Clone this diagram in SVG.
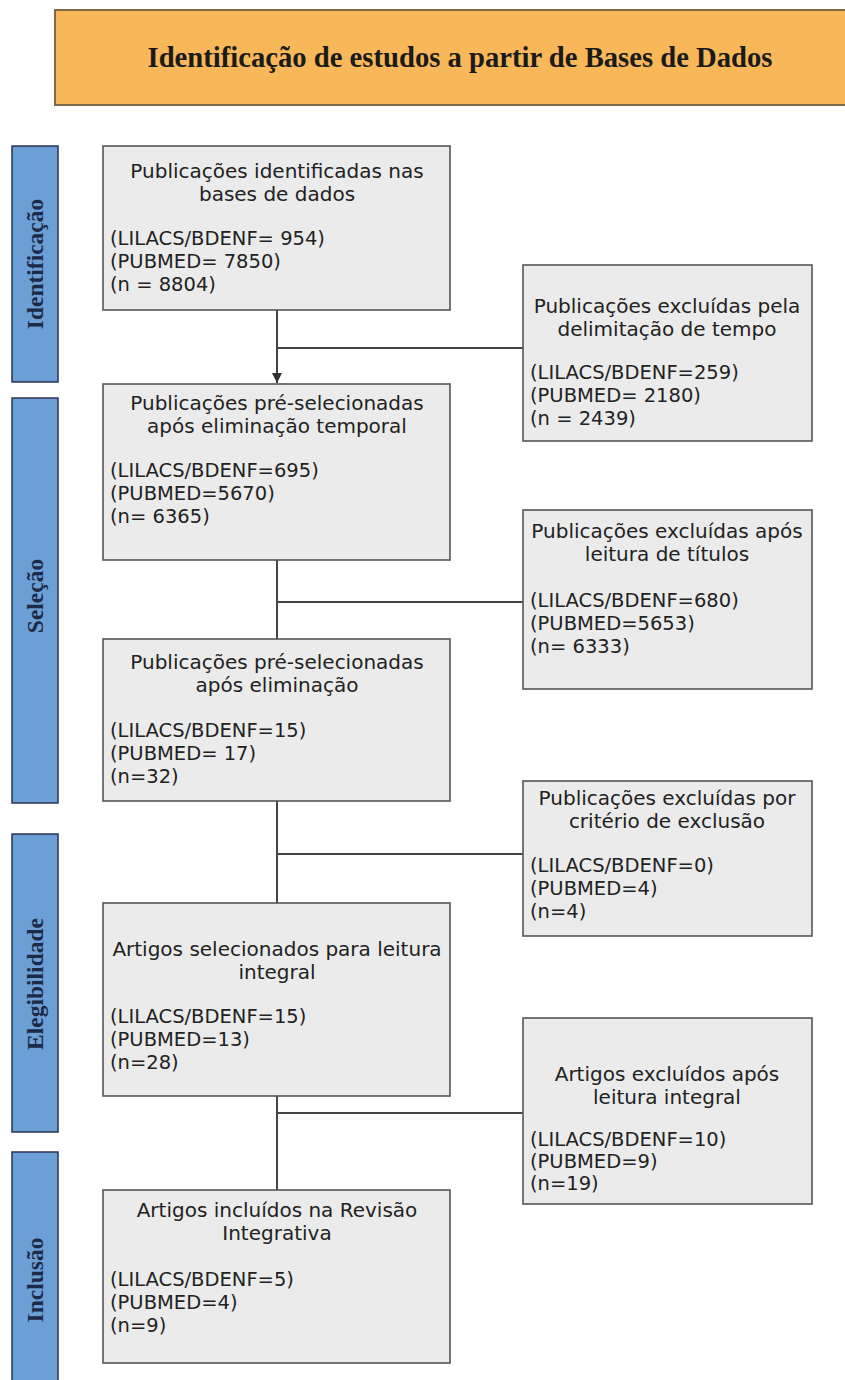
<svg xmlns="http://www.w3.org/2000/svg" width="845" height="1380" viewBox="0 0 845 1380">
<defs>
<style>
.hdr{fill:#f8b758;stroke:#7d6a48;stroke-width:2}
.ttl{font-family:"Liberation Serif",serif;font-weight:bold;font-size:30px;fill:#1a1a1a}
.bar{fill:#6b9fd6;stroke:#2b3550;stroke-width:1.5}
.bt{font-family:"Liberation Serif",serif;font-weight:bold;font-size:23.5px;fill:#1c2a48}
.box{fill:#ebebeb;stroke:#555;stroke-width:1.6}
.t{font-family:"DejaVu Sans",sans-serif;font-size:19.5px;fill:#222}
.h{font-size:20px}
.c{text-anchor:middle}
.ln{stroke:#444;stroke-width:2;fill:none}
</style>
<marker id="ah" viewBox="0 0 10 10" refX="10" refY="5" markerWidth="5" markerHeight="5" orient="auto"><path d="M0,0 L10,5 L0,10 z" fill="#333"/></marker>
</defs>
<rect width="845" height="1380" fill="#fff"/>
<g id="header">
<rect class="hdr" x="55" y="10" width="800" height="95"/>
<text class="ttl c" x="460" y="67" textLength="625" lengthAdjust="spacingAndGlyphs">Identificação de estudos a partir de Bases de Dados</text>
</g>
<g id="phase-identificacao">
<rect class="bar" x="12" y="146" width="46" height="236"/>
<text class="bt c" transform="translate(43,264) rotate(-90)">Identificação</text>
</g>
<g id="phase-selecao">
<rect class="bar" x="12" y="398" width="46" height="405"/>
<text class="bt c" transform="translate(43,596) rotate(-90)">Seleção</text>
</g>
<g id="phase-elegibilidade">
<rect class="bar" x="12" y="834" width="46" height="298"/>
<text class="bt c" transform="translate(43,984) rotate(-90)">Elegibilidade</text>
</g>
<g id="phase-inclusao">
<rect class="bar" x="12" y="1152" width="46" height="240"/>
<text class="bt c" transform="translate(43,1280) rotate(-90)">Inclusão</text>
</g>
<g id="connectors">
<line class="ln" x1="277" y1="310" x2="277" y2="383" marker-end="url(#ah)"/>
<line class="ln" x1="277" y1="348" x2="523" y2="348"/>
<line class="ln" x1="277" y1="560" x2="277" y2="639"/>
<line class="ln" x1="277" y1="602" x2="523" y2="602"/>
<line class="ln" x1="277" y1="801" x2="277" y2="903"/>
<line class="ln" x1="277" y1="854" x2="523" y2="854"/>
<line class="ln" x1="277" y1="1096" x2="277" y2="1190"/>
<line class="ln" x1="277" y1="1113" x2="523" y2="1113"/>
</g>
<g id="box1">
<rect class="box" x="103" y="146" width="347" height="164"/>
<text class="t h c" x="277" y="178">Publicações identificadas nas</text>
<text class="t h c" x="277" y="201">bases de dados</text>
<text class="t" x="110" y="245">(LILACS/BDENF= 954)</text>
<text class="t" x="110" y="268">(PUBMED= 7850)</text>
<text class="t" x="110" y="291">(n = 8804)</text>
</g>
<g id="box2">
<rect class="box" x="103" y="384" width="347" height="176"/>
<text class="t h c" x="277" y="410">Publicações pré-selecionadas</text>
<text class="t h c" x="277" y="433">após eliminação temporal</text>
<text class="t" x="110" y="477">(LILACS/BDENF=695)</text>
<text class="t" x="110" y="500">(PUBMED=5670)</text>
<text class="t" x="110" y="523">(n= 6365)</text>
</g>
<g id="box3">
<rect class="box" x="103" y="639" width="347" height="162"/>
<text class="t h c" x="277" y="669">Publicações pré-selecionadas</text>
<text class="t h c" x="277" y="692">após eliminação</text>
<text class="t" x="110" y="737">(LILACS/BDENF=15)</text>
<text class="t" x="110" y="760">(PUBMED= 17)</text>
<text class="t" x="110" y="783">(n=32)</text>
</g>
<g id="box4">
<rect class="box" x="103" y="903" width="347" height="193"/>
<text class="t h c" x="277" y="956">Artigos selecionados para leitura</text>
<text class="t h c" x="277" y="979">integral</text>
<text class="t" x="110" y="1023">(LILACS/BDENF=15)</text>
<text class="t" x="110" y="1046">(PUBMED=13)</text>
<text class="t" x="110" y="1069">(n=28)</text>
</g>
<g id="box5">
<rect class="box" x="103" y="1190" width="347" height="173"/>
<text class="t h c" x="277" y="1217">Artigos incluídos na Revisão</text>
<text class="t h c" x="277" y="1240">Integrativa</text>
<text class="t" x="110" y="1286">(LILACS/BDENF=5)</text>
<text class="t" x="110" y="1309">(PUBMED=4)</text>
<text class="t" x="110" y="1332">(n=9)</text>
</g>
<g id="excl1">
<rect class="box" x="523" y="265" width="289" height="176"/>
<text class="t h c" x="667" y="313">Publicações excluídas pela</text>
<text class="t h c" x="667" y="336">delimitação de tempo</text>
<text class="t" x="530" y="379">(LILACS/BDENF=259)</text>
<text class="t" x="530" y="402">(PUBMED= 2180)</text>
<text class="t" x="530" y="425">(n = 2439)</text>
</g>
<g id="excl2">
<rect class="box" x="523" y="510" width="289" height="179"/>
<text class="t h c" x="667" y="538">Publicações excluídas após</text>
<text class="t h c" x="667" y="561">leitura de títulos</text>
<text class="t" x="530" y="607">(LILACS/BDENF=680)</text>
<text class="t" x="530" y="630">(PUBMED=5653)</text>
<text class="t" x="530" y="653">(n= 6333)</text>
</g>
<g id="excl3">
<rect class="box" x="523" y="781" width="289" height="155"/>
<text class="t h c" x="667" y="805">Publicações excluídas por</text>
<text class="t h c" x="667" y="828">critério de exclusão</text>
<text class="t" x="530" y="872">(LILACS/BDENF=0)</text>
<text class="t" x="530" y="895">(PUBMED=4)</text>
<text class="t" x="530" y="918">(n=4)</text>
</g>
<g id="excl4">
<rect class="box" x="523" y="1018" width="289" height="186"/>
<text class="t h c" x="667" y="1081">Artigos excluídos após</text>
<text class="t h c" x="667" y="1104">leitura integral</text>
<text class="t" x="530" y="1146">(LILACS/BDENF=10)</text>
<text class="t" x="530" y="1168">(PUBMED=9)</text>
<text class="t" x="530" y="1190">(n=19)</text>
</g>
</svg>
